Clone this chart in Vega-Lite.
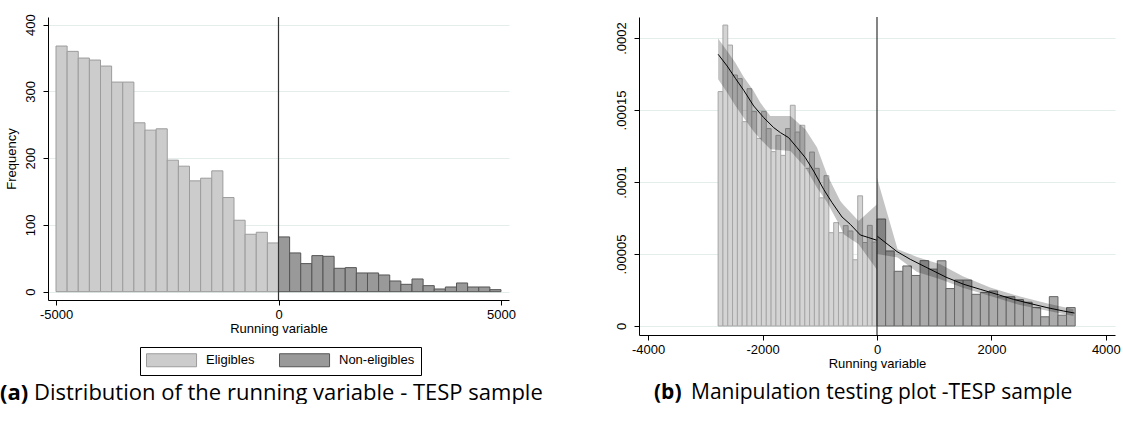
{
  "$schema": "https://vega.github.io/schema/vega-lite/v6.json",
  "padding": {"left": 0, "top": 13, "right": 0, "bottom": 0},
  "bounds": "flush",
  "spacing": 130,
  "config": {
    "view": {"stroke": null},
    "font": "Liberation Sans",
    "axis": {
      "domainColor": "#000", "domainWidth": 1, "tickColor": "#000", "tickSize": 5, "tickWidth": 1,
      "labelColor": "#000", "titleColor": "#000", "labelFontSize": 13, "titleFontSize": 13,
      "titleFontWeight": "normal", "labelFont": "Liberation Sans", "titleFont": "Liberation Sans",
      "gridColor": "#e4ecec", "gridWidth": 1, "labelFlush": false
    }
  },
  "datasets": {
    "histA": [
      {"x0": -5000, "x1": -4750, "n": 368, "g": "Eligibles"},
      {"x0": -4750, "x1": -4500, "n": 360, "g": "Eligibles"},
      {"x0": -4500, "x1": -4250, "n": 350, "g": "Eligibles"},
      {"x0": -4250, "x1": -4000, "n": 347, "g": "Eligibles"},
      {"x0": -4000, "x1": -3750, "n": 338, "g": "Eligibles"},
      {"x0": -3750, "x1": -3500, "n": 314, "g": "Eligibles"},
      {"x0": -3500, "x1": -3250, "n": 314, "g": "Eligibles"},
      {"x0": -3250, "x1": -3000, "n": 253, "g": "Eligibles"},
      {"x0": -3000, "x1": -2750, "n": 242, "g": "Eligibles"},
      {"x0": -2750, "x1": -2500, "n": 244, "g": "Eligibles"},
      {"x0": -2500, "x1": -2250, "n": 197, "g": "Eligibles"},
      {"x0": -2250, "x1": -2000, "n": 188, "g": "Eligibles"},
      {"x0": -2000, "x1": -1750, "n": 166, "g": "Eligibles"},
      {"x0": -1750, "x1": -1500, "n": 170, "g": "Eligibles"},
      {"x0": -1500, "x1": -1250, "n": 181, "g": "Eligibles"},
      {"x0": -1250, "x1": -1000, "n": 141, "g": "Eligibles"},
      {"x0": -1000, "x1": -750, "n": 107, "g": "Eligibles"},
      {"x0": -750, "x1": -500, "n": 86, "g": "Eligibles"},
      {"x0": -500, "x1": -250, "n": 89, "g": "Eligibles"},
      {"x0": -250, "x1": 0, "n": 73, "g": "Eligibles"},
      {"x0": 0, "x1": 250, "n": 82, "g": "Non-eligibles"},
      {"x0": 250, "x1": 500, "n": 58, "g": "Non-eligibles"},
      {"x0": 500, "x1": 750, "n": 42, "g": "Non-eligibles"},
      {"x0": 750, "x1": 1000, "n": 54, "g": "Non-eligibles"},
      {"x0": 1000, "x1": 1250, "n": 53, "g": "Non-eligibles"},
      {"x0": 1250, "x1": 1500, "n": 35, "g": "Non-eligibles"},
      {"x0": 1500, "x1": 1750, "n": 36, "g": "Non-eligibles"},
      {"x0": 1750, "x1": 2000, "n": 28, "g": "Non-eligibles"},
      {"x0": 2000, "x1": 2250, "n": 28, "g": "Non-eligibles"},
      {"x0": 2250, "x1": 2500, "n": 25, "g": "Non-eligibles"},
      {"x0": 2500, "x1": 2750, "n": 16, "g": "Non-eligibles"},
      {"x0": 2750, "x1": 3000, "n": 11, "g": "Non-eligibles"},
      {"x0": 3000, "x1": 3250, "n": 19, "g": "Non-eligibles"},
      {"x0": 3250, "x1": 3500, "n": 9, "g": "Non-eligibles"},
      {"x0": 3500, "x1": 3750, "n": 4, "g": "Non-eligibles"},
      {"x0": 3750, "x1": 4000, "n": 7, "g": "Non-eligibles"},
      {"x0": 4000, "x1": 4250, "n": 13, "g": "Non-eligibles"},
      {"x0": 4250, "x1": 4500, "n": 7, "g": "Non-eligibles"},
      {"x0": 4500, "x1": 4750, "n": 7, "g": "Non-eligibles"},
      {"x0": 4750, "x1": 5000, "n": 3, "g": "Non-eligibles"}
    ],
    "histB": [
      {"x0": -2777, "x1": -2693, "d": 1.628e-4, "s": "left"},
      {"x0": -2693, "x1": -2609, "d": 2.09e-4, "s": "left"},
      {"x0": -2609, "x1": -2525, "d": 1.951e-4, "s": "left"},
      {"x0": -2525, "x1": -2440, "d": 1.743e-4, "s": "left"},
      {"x0": -2440, "x1": -2356, "d": 1.718e-4, "s": "left"},
      {"x0": -2356, "x1": -2272, "d": 1.419e-4, "s": "left"},
      {"x0": -2272, "x1": -2188, "d": 1.648e-4, "s": "left"},
      {"x0": -2188, "x1": -2104, "d": 1.489e-4, "s": "left"},
      {"x0": -2104, "x1": -2020, "d": 1.303e-4, "s": "left"},
      {"x0": -2020, "x1": -1935, "d": 1.489e-4, "s": "left"},
      {"x0": -1935, "x1": -1851, "d": 1.371e-4, "s": "left"},
      {"x0": -1851, "x1": -1767, "d": 1.211e-4, "s": "left"},
      {"x0": -1767, "x1": -1683, "d": 1.324e-4, "s": "left"},
      {"x0": -1683, "x1": -1599, "d": 1.185e-4, "s": "left"},
      {"x0": -1599, "x1": -1515, "d": 1.371e-4, "s": "left"},
      {"x0": -1515, "x1": -1431, "d": 1.533e-4, "s": "left"},
      {"x0": -1431, "x1": -1346, "d": 1.347e-4, "s": "left"},
      {"x0": -1346, "x1": -1262, "d": 1.394e-4, "s": "left"},
      {"x0": -1262, "x1": -1178, "d": 1.095e-4, "s": "left"},
      {"x0": -1178, "x1": -1094, "d": 1.208e-4, "s": "left"},
      {"x0": -1094, "x1": -1010, "d": 1.095e-4, "s": "left"},
      {"x0": -1010, "x1": -926, "d": 8.9e-5, "s": "left"},
      {"x0": -926, "x1": -842, "d": 1.044e-4, "s": "left"},
      {"x0": -842, "x1": -757, "d": 6.48e-5, "s": "left"},
      {"x0": -757, "x1": -673, "d": 7.18e-5, "s": "left"},
      {"x0": -673, "x1": -589, "d": 6.48e-5, "s": "left"},
      {"x0": -589, "x1": -505, "d": 6.97e-5, "s": "left"},
      {"x0": -505, "x1": -421, "d": 6.6e-5, "s": "left"},
      {"x0": -421, "x1": -337, "d": 4.6e-5, "s": "left"},
      {"x0": -337, "x1": -252, "d": 9.04e-5, "s": "left"},
      {"x0": -252, "x1": -168, "d": 5.8e-5, "s": "left"},
      {"x0": -168, "x1": -84, "d": 6.99e-5, "s": "left"},
      {"x0": -84, "x1": 0, "d": 5.83e-5, "s": "left"},
      {"x0": 0, "x1": 151, "d": 7.43e-5, "s": "right"},
      {"x0": 151, "x1": 301, "d": 5.21e-5, "s": "right"},
      {"x0": 301, "x1": 452, "d": 3.8e-5, "s": "right"},
      {"x0": 452, "x1": 602, "d": 4.17e-5, "s": "right"},
      {"x0": 602, "x1": 753, "d": 3.51e-5, "s": "right"},
      {"x0": 753, "x1": 904, "d": 4.54e-5, "s": "right"},
      {"x0": 904, "x1": 1054, "d": 3.95e-5, "s": "right"},
      {"x0": 1054, "x1": 1205, "d": 4.53e-5, "s": "right"},
      {"x0": 1205, "x1": 1355, "d": 2.6e-5, "s": "right"},
      {"x0": 1355, "x1": 1506, "d": 3.19e-5, "s": "right"},
      {"x0": 1506, "x1": 1657, "d": 3.19e-5, "s": "right"},
      {"x0": 1657, "x1": 1807, "d": 2.2e-5, "s": "right"},
      {"x0": 1807, "x1": 1958, "d": 2.33e-5, "s": "right"},
      {"x0": 1958, "x1": 2108, "d": 2.43e-5, "s": "right"},
      {"x0": 2108, "x1": 2259, "d": 2.03e-5, "s": "right"},
      {"x0": 2259, "x1": 2410, "d": 2.03e-5, "s": "right"},
      {"x0": 2410, "x1": 2560, "d": 1.83e-5, "s": "right"},
      {"x0": 2560, "x1": 2711, "d": 1.65e-5, "s": "right"},
      {"x0": 2711, "x1": 2861, "d": 1.28e-5, "s": "right"},
      {"x0": 2861, "x1": 3012, "d": 6.4e-6, "s": "right"},
      {"x0": 3012, "x1": 3163, "d": 2.04e-5, "s": "right"},
      {"x0": 3163, "x1": 3313, "d": 7.5e-6, "s": "right"},
      {"x0": 3313, "x1": 3464, "d": 1.28e-5, "s": "right"}
    ],
    "lineB": [
      {"x": -2777, "f": 1.887e-4, "s": "left"},
      {"x": -2620, "f": 1.806e-4, "s": "left"},
      {"x": -2475, "f": 1.72e-4, "s": "left"},
      {"x": -2330, "f": 1.637e-4, "s": "left"},
      {"x": -2155, "f": 1.528e-4, "s": "left"},
      {"x": -1980, "f": 1.447e-4, "s": "left"},
      {"x": -1806, "f": 1.378e-4, "s": "left"},
      {"x": -1689, "f": 1.343e-4, "s": "left"},
      {"x": -1544, "f": 1.308e-4, "s": "left"},
      {"x": -1398, "f": 1.239e-4, "s": "left"},
      {"x": -1252, "f": 1.169e-4, "s": "left"},
      {"x": -1107, "f": 1.076e-4, "s": "left"},
      {"x": -932, "f": 9.49e-5, "s": "left"},
      {"x": -786, "f": 8.57e-5, "s": "left"},
      {"x": -611, "f": 7.57e-5, "s": "left"},
      {"x": -466, "f": 7.06e-5, "s": "left"},
      {"x": -291, "f": 6.32e-5, "s": "left"},
      {"x": -146, "f": 6.14e-5, "s": "left"},
      {"x": 0, "f": 5.95e-5, "s": "left"},
      {"x": 0, "f": 6.25e-5, "s": "right"},
      {"x": 349, "f": 5.17e-5, "s": "right"},
      {"x": 582, "f": 4.63e-5, "s": "right"},
      {"x": 873, "f": 4.05e-5, "s": "right"},
      {"x": 1223, "f": 3.36e-5, "s": "right"},
      {"x": 1513, "f": 2.9e-5, "s": "right"},
      {"x": 1804, "f": 2.55e-5, "s": "right"},
      {"x": 2096, "f": 2.2e-5, "s": "right"},
      {"x": 2386, "f": 1.85e-5, "s": "right"},
      {"x": 2678, "f": 1.56e-5, "s": "right"},
      {"x": 2969, "f": 1.28e-5, "s": "right"},
      {"x": 3260, "f": 1.04e-5, "s": "right"},
      {"x": 3452, "f": 9e-6, "s": "right"}
    ],
    "bandB": [
      {"x": -2777, "lo": 1.713e-4, "hi": 1.996e-4, "s": "left"},
      {"x": -2620, "lo": 1.621e-4, "hi": 1.91e-4, "s": "left"},
      {"x": -2475, "lo": 1.53e-4, "hi": 1.829e-4, "s": "left"},
      {"x": -2330, "lo": 1.447e-4, "hi": 1.73e-4, "s": "left"},
      {"x": -2155, "lo": 1.35e-4, "hi": 1.632e-4, "s": "left"},
      {"x": -2038, "lo": 1.297e-4, "hi": 1.55e-4, "s": "left"},
      {"x": -1864, "lo": 1.227e-4, "hi": 1.458e-4, "s": "left"},
      {"x": -1514, "lo": 1.215e-4, "hi": 1.458e-4, "s": "left"},
      {"x": -1252, "lo": 1.1e-4, "hi": 1.366e-4, "s": "left"},
      {"x": -1048, "lo": 9.6e-5, "hi": 1.239e-4, "s": "left"},
      {"x": -873, "lo": 8.6e-5, "hi": 1.053e-4, "s": "left"},
      {"x": -641, "lo": 6.9e-5, "hi": 8.68e-5, "s": "left"},
      {"x": -583, "lo": 6.37e-5, "hi": 8.4e-5, "s": "left"},
      {"x": -321, "lo": 5.67e-5, "hi": 7.29e-5, "s": "left"},
      {"x": 0, "lo": 3.9e-5, "hi": 8.45e-5, "s": "left"},
      {"x": 0, "lo": 5.0e-5, "hi": 1.03e-4, "s": "right"},
      {"x": 360, "lo": 4.75e-5, "hi": 5.33e-5, "s": "right"},
      {"x": 700, "lo": 3.75e-5, "hi": 4.8e-5, "s": "right"},
      {"x": 1106, "lo": 3.24e-5, "hi": 4.28e-5, "s": "right"},
      {"x": 1500, "lo": 2.65e-5, "hi": 3.45e-5, "s": "right"},
      {"x": 1979, "lo": 2.08e-5, "hi": 2.67e-5, "s": "right"},
      {"x": 2500, "lo": 1.45e-5, "hi": 2.05e-5, "s": "right"},
      {"x": 3000, "lo": 1.05e-5, "hi": 1.55e-5, "s": "right"},
      {"x": 3434, "lo": 6.9e-6, "hi": 1.16e-5, "s": "right"}
    ],
    "zero": [{"x": 0}]
  },
  "hconcat": [
    {
      "width": 461,
      "height": 283,
      "title": {
        "text": "(a)",
        "subtitle": "Distribution of the running variable - TESP sample",
        "orient": "bottom", "anchor": "start", "align": "left", "frame": "group",
        "dx": -48, "offset": 7,
        "font": "Open Sans", "fontSize": 22, "fontWeight": "bold", "color": "#000",
        "subtitleFont": "Open Sans", "subtitleFontSize": 22, "subtitleFontWeight": "normal",
        "subtitleColor": "#000", "subtitlePadding": -22,
        "encode": {"subtitle": {"update": {"dx": {"value": -14}}}}
      },
      "layer": [
        {
          "data": {"name": "histA"},
          "mark": {"type": "bar", "strokeWidth": 1},
          "encoding": {
            "x": {
              "field": "x0", "type": "quantitative",
              "scale": {"domain": [-5180, 5180], "nice": false, "zero": false},
              "axis": {"values": [-5000, 0, 5000], "grid": false, "title": "Running variable", "labelPadding": 3, "titlePadding": 1, "labelExpr": "'' + datum.value"}
            },
            "x2": {"field": "x1"},
            "y": {
              "field": "n", "type": "quantitative",
              "scale": {"domain": [-12.5, 411.5], "nice": false, "zero": false},
              "axis": {"values": [0, 100, 200, 300, 400], "grid": true, "title": "Frequency", "labelAngle": -90, "labelPadding": 6, "titlePadding": 6}
            },
            "y2": {"datum": 0},
            "fill": {
              "field": "g", "type": "nominal",
              "scale": {"domain": ["Eligibles", "Non-eligibles"], "range": ["#cccccc", "#999999"]},
              "legend": {
                "orient": "none", "legendX": 92, "legendY": 330, "direction": "horizontal", "title": null,
                "symbolType": "M-1,-1H6.7V1H-1Z", "symbolSize": 169, "symbolStrokeWidth": 1,
                "labelFontSize": 13, "labelColor": "#000", "labelOffset": 46, "columnPadding": 22,
                "padding": 6, "strokeColor": "#000", "fillColor": "#fff"
              }
            },
            "stroke": {
              "field": "g", "type": "nominal",
              "scale": {"domain": ["Eligibles", "Non-eligibles"], "range": ["#9c9c9c", "#555555"]},
              "legend": {
                "orient": "none", "legendX": 92, "legendY": 330, "direction": "horizontal", "title": null,
                "symbolType": "M-1,-1H6.7V1H-1Z", "symbolSize": 169, "symbolStrokeWidth": 1,
                "labelFontSize": 13, "labelColor": "#000", "labelOffset": 46, "columnPadding": 22,
                "padding": 6, "strokeColor": "#000", "fillColor": "#fff"
              }
            }
          }
        },
        {
          "data": {"name": "zero"},
          "mark": {"type": "rule", "color": "#333", "strokeWidth": 1.2},
          "encoding": {"x": {"field": "x", "type": "quantitative"}}
        }
      ]
    },
    {
      "width": 476,
      "height": 318,
      "title": {
        "text": "(b)",
        "subtitle": "Manipulation testing plot -TESP sample",
        "orient": "bottom", "anchor": "start", "align": "left", "frame": "group",
        "dx": 15, "offset": 12,
        "font": "Open Sans", "fontSize": 21, "fontWeight": "bold", "color": "#000",
        "subtitleFont": "Open Sans", "subtitleFontSize": 21, "subtitleFontWeight": "normal",
        "subtitleColor": "#000", "subtitlePadding": -21,
        "encode": {"subtitle": {"update": {"dx": {"value": 52}}}}
      },
      "layer": [
        {
          "data": {"name": "histB"},
          "mark": {"type": "bar", "strokeWidth": 1},
          "encoding": {
            "x": {
              "field": "x0", "type": "quantitative",
              "scale": {"domain": [-4160, 4160], "nice": false, "zero": false},
              "axis": {"values": [-4000, -2000, 0, 2000, 4000], "grid": false, "title": "Running variable", "labelPadding": 3, "titlePadding": 1, "labelExpr": "'' + datum.value"}
            },
            "x2": {"field": "x1"},
            "y": {
              "field": "d", "type": "quantitative",
              "scale": {"domain": [-0.00000625, 0.0002146], "nice": false, "zero": false},
              "axis": {
                "values": [0, 0.00005, 0.0001, 0.00015, 0.0002], "grid": true, "title": null,
                "labelAngle": -90, "labelPadding": 6,
                "labelExpr": "datum.value == 0 ? '0' : substring(format(datum.value, '.5~f'), 1)"
              }
            },
            "y2": {"datum": 0},
            "fill": {
              "field": "s", "type": "nominal",
              "scale": {"domain": ["left", "right"], "range": ["#d4d4d4", "#ababab"]},
              "legend": null
            },
            "stroke": {
              "field": "s", "type": "nominal",
              "scale": {"domain": ["left", "right"], "range": ["#a6a6a6", "#666666"]},
              "legend": null
            }
          }
        },
        {
          "data": {"name": "bandB"},
          "mark": {"type": "area", "color": "#000", "fillOpacity": 0.23},
          "encoding": {
            "x": {"field": "x", "type": "quantitative"},
            "y": {"field": "lo", "type": "quantitative"},
            "y2": {"field": "hi"},
            "detail": {"field": "s", "type": "nominal"}
          }
        },
        {
          "data": {"name": "lineB"},
          "mark": {"type": "line", "color": "#000", "strokeWidth": 1},
          "encoding": {
            "x": {"field": "x", "type": "quantitative"},
            "y": {"field": "f", "type": "quantitative"},
            "detail": {"field": "s", "type": "nominal"}
          }
        },
        {
          "data": {"name": "zero"},
          "mark": {"type": "rule", "color": "#333", "strokeWidth": 1.2},
          "encoding": {"x": {"field": "x", "type": "quantitative"}}
        }
      ]
    }
  ],
  "resolve": {
    "scale": {"x": "independent", "y": "independent", "fill": "independent", "stroke": "independent"},
    "legend": {"fill": "independent", "stroke": "independent"}
  }
}
